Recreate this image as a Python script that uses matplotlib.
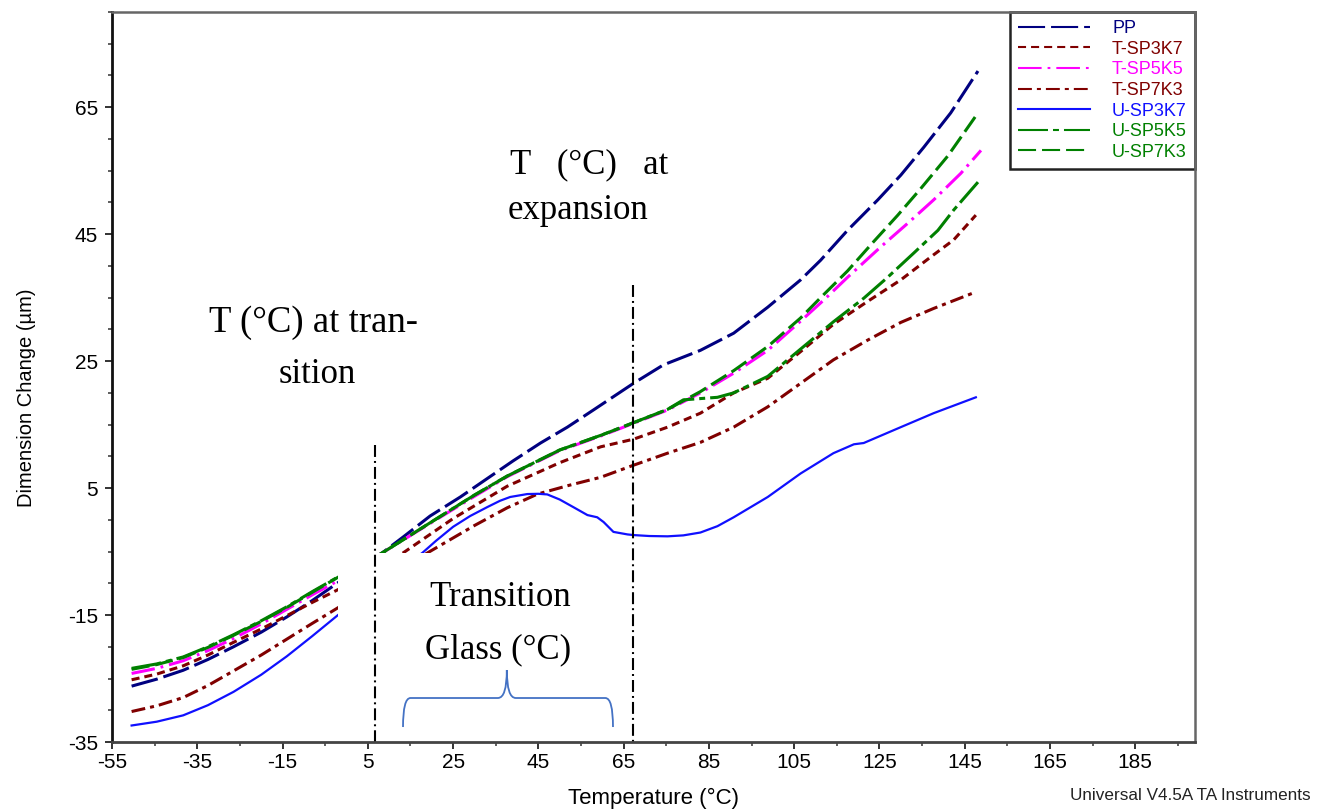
import matplotlib
matplotlib.use("Agg")
import matplotlib.pyplot as plt
from matplotlib.ticker import MultipleLocator
from matplotlib.patches import Rectangle, PathPatch
from matplotlib.path import Path

plt.rcParams['font.family'] = ['Liberation Sans', 'DejaVu Sans']
plt.rcParams['lines.scale_dashes'] = False
plt.rcParams['axes.unicode_minus'] = False

# ---- data (temperature in C, dimension change in um) ----
t_pp = [-50.4, -44.5, -38.3, -32.5, -26.5, -20.0, -14.0, -8.0, -2.0, 8.4, 13.3, 19.6,
        26.7, 33.0, 39.1, 45.5, 51.8, 57.9, 67.3, 74.3, 83.0, 90.8, 98.8, 106.5, 111.2,
        117.5, 124.6, 130.0, 135.4, 141.7, 148.1]
d_pp = [-26.2, -25.1, -23.7, -22.0, -20.0, -17.7, -15.3, -12.7, -9.9, -5.2, -2.7, 0.6,
        3.6, 6.5, 9.3, 12.1, 14.6, 17.3, 21.5, 24.4, 26.7, 29.4, 33.5, 37.8, 40.9,
        45.6, 50.4, 54.3, 58.7, 64.1, 70.7]

t_tsp3k7 = [-50.4, -44.5, -38.3, -32.5, -26.5, -20.0, -14.0, -8.0, -2.0, 13.3, 25.0,
            37.7, 50.0, 59.6, 67.3, 75.3, 83.0, 90.8, 98.8, 106.5, 114.2, 122.2, 130.0,
            137.0, 142.4, 147.6]
d_tsp3k7 = [-25.2, -24.3, -23.0, -21.3, -19.3, -17.2, -15.1, -13.0, -11.0, -5.2, 0.2,
            5.3, 9.0, 11.5, 12.7, 14.6, 16.8, 20.0, 22.3, 26.5, 30.8, 34.4, 37.8,
            41.4, 44.1, 48.0]

t_tsp5k5 = [-50.4, -44.5, -38.3, -32.5, -26.5, -20.0, -14.0, -8.0, -2.0, 8.4, 20.0,
            30.0, 37.7, 50.0, 60.0, 67.3, 75.3, 83.0, 90.8, 98.8, 106.5, 111.9, 117.5,
            125.3, 131.6, 137.7, 144.1, 148.8]
d_tsp5k5 = [-24.2, -23.4, -22.2, -20.6, -18.7, -16.4, -14.1, -11.8, -9.6, -5.2, -0.4,
            3.7, 6.8, 10.9, 13.3, 15.2, 17.3, 20.0, 23.1, 26.7, 31.3, 34.6, 38.2,
            43.0, 46.7, 50.4, 54.6, 58.2]

t_tsp7k3 = [-50.4, -44.5, -38.3, -32.5, -26.5, -20.0, -14.0, -8.0, -2.0, 19.0, 30.0,
            37.7, 44.8, 52.0, 59.6, 67.3, 75.3, 83.0, 90.8, 98.8, 106.5, 114.2, 122.2,
            130.0, 137.7, 147.6]
d_tsp7k3 = [-30.2, -29.3, -28.0, -26.1, -23.8, -21.3, -18.8, -16.3, -13.85, -5.2, -0.9,
            1.9, 4.06, 5.4, 6.7, 8.6, 10.5, 12.2, 14.6, 17.8, 21.5, 25.2, 28.3,
            31.1, 33.3, 35.9]

t_usp3k7 = [-50.4, -44.5, -38.3, -32.5, -26.5, -20.0, -14.0, -8.0, -2.0, 17.8, 21.0,
            25.0, 29.0, 33.0, 36.0, 38.4, 42.4, 45.0, 47.1, 50.0, 53.2, 56.5, 58.8,
            60.3, 62.6, 65.9, 67.3, 71.0, 75.3, 79.0, 83.0, 87.0, 90.8, 98.8, 106.5,
            114.2, 119.0, 121.3, 130.0, 137.7, 147.6]
d_usp3k7 = [-32.4, -31.8, -30.8, -29.2, -27.1, -24.4, -21.5, -18.3, -15.0, -5.2, -3.3,
            -1.1, 0.6, 2.0, 3.0, 3.6, 4.06, 4.1, 4.0, 3.2, 2.0, 0.75, 0.4,
            -0.35, -1.9, -2.3, -2.4, -2.55, -2.6, -2.45, -2.0, -1.0, 0.4, 3.6, 7.3,
            10.5, 11.9, 12.1, 14.6, 16.8, 19.3]

t_usp5k5 = [-50.4, -44.5, -38.3, -32.5, -26.5, -20.0, -14.0, -8.0, -2.0, 8.4, 20.0,
            30.0, 37.7, 50.0, 60.0, 67.3, 75.3, 79.0, 83.0, 87.0, 90.8, 98.8, 106.5,
            114.2, 121.3, 126.9, 133.0, 138.7, 142.4, 148.1]
d_usp5k5 = [-23.4, -22.7, -21.6, -20.0, -18.1, -15.9, -13.7, -11.3, -9.0, -5.2, -0.3,
            3.9, 6.9, 11.0, 13.4, 15.3, 17.4, 18.9, 19.1, 19.3, 20.0, 22.6, 26.9,
            31.2, 34.9, 38.2, 42.0, 45.6, 48.8, 53.2]

t_usp7k3 = [-50.4, -44.5, -38.3, -32.5, -26.5, -20.0, -14.0, -8.0, -2.0, 8.4, 20.0,
            30.0, 37.7, 50.0, 60.0, 67.3, 75.3, 83.0, 90.8, 98.8, 106.5, 111.2, 117.5,
            123.6, 129.3, 134.7, 141.0, 148.1]
d_usp7k3 = [-23.55, -22.8, -21.7, -20.1, -18.2, -16.0, -13.8, -11.4, -9.05, -5.2, -0.3,
            3.9, 6.9, 11.0, 13.4, 15.3, 17.4, 20.2, 23.5, 27.3, 31.8, 35.0, 39.2,
            43.8, 48.0, 52.2, 57.3, 64.1]

names = ["PP", "T-SP3K7", "T-SP5K5", "T-SP7K3", "U-SP3K7", "U-SP5K5", "U-SP7K3"]
temps = [t_pp, t_tsp3k7, t_tsp5k5, t_tsp7k3, t_usp3k7, t_usp5k5, t_usp7k3]
dims = [d_pp, d_tsp3k7, d_tsp5k5, d_tsp7k3, d_usp3k7, d_usp5k5, d_usp7k3]

colors = ["#000080", "#800000", "#ff00ff", "#800000", "#1010ff", "#008000", "#008000"]
widths = [2.2, 2.2, 2.2, 2.2, 1.6, 2.2, 2.2]
dash_styles = [(19.5, 4.3), (5.8, 3.6), (17, 4.3, 2, 4.3), (10, 3.6, 2.9, 3.6), None,
               (21.6, 3.6, 4.3, 3.6), (13, 4.3)]

fig = plt.figure(figsize=(13.19, 8.11), dpi=100)
ax = fig.add_axes([112 / 1319, 69 / 811, 1083 / 1319, 730 / 811])

for name, t, d, c, lw, ds in zip(names, temps, dims, colors, widths, dash_styles):
    if ds is None:
        ax.plot(t, d, color=c, lw=lw, label=name, zorder=2)
    else:
        ax.plot(t, d, color=c, lw=lw, dashes=ds, label=name, zorder=2)

ax.set_xlim(-55, 199)
ax.set_ylim(-35, 80)
ax.xaxis.set_major_locator(MultipleLocator(20, offset=5))
ax.xaxis.set_minor_locator(MultipleLocator(10, offset=5))
ax.yaxis.set_major_locator(MultipleLocator(20, offset=5))
ax.yaxis.set_minor_locator(MultipleLocator(5))

ax.tick_params(which='major', direction='out', length=5, width=1.4, labelsize=15,
               color='#333333')
ax.tick_params(axis='y', which='major', pad=5)
ax.tick_params(axis='x', which='major', pad=3)
ax.tick_params(which='minor', direction='out', length=3, width=1.1, color='#333333')

ax.spines['left'].set_linewidth(2)
ax.spines['left'].set_color('#111111')
ax.spines['bottom'].set_linewidth(2)
ax.spines['bottom'].set_color('#444444')
for s in ['top', 'right']:
    ax.spines[s].set_linewidth(1.8)
    ax.spines[s].set_color('#666666')
for sp in ax.spines.values():
    sp.set_zorder(10)

ax.set_xlabel('Temperature (°C)', fontsize=16)
ax.xaxis.set_label_coords(0.5, -0.063)
ax.set_ylabel('Dimension Change (µm)', fontsize=14.5)
ax.yaxis.set_label_coords(-0.070, 0.472)

# white box over the transition zone (as in the source figure)
ax.add_patch(Rectangle((-2.0, -35), 66, 29.8, facecolor='white', edgecolor='none', zorder=3))

# dash-dot markers for the temperature ranges
ax.plot([6.7, 6.7], [11.8, -35], color='black', lw=1.5, dashes=(8.6, 2.9, 1.4, 2.9), zorder=4)
ax.plot([67.1, 67.1], [37.0, -35], color='black', lw=1.5, dashes=(8.6, 2.9, 1.4, 2.9), zorder=4)

# curly brace
verts = [(13.25, -32.64), (13.25, -28.07), (15.0, -28.07),
         (35.5, -28.07), (35.5, -28.07), (37.6, -28.07), (37.6, -23.66),
         (37.6, -28.07), (39.7, -28.07), (60.7, -28.07), (60.7, -28.07),
         (62.5, -28.07), (62.5, -32.64)]
codes = [Path.MOVETO, Path.CURVE3, Path.CURVE3, Path.LINETO, Path.LINETO,
         Path.CURVE3, Path.CURVE3, Path.CURVE3, Path.CURVE3, Path.LINETO, Path.LINETO,
         Path.CURVE3, Path.CURVE3]
ax.add_patch(PathPatch(Path(verts, codes), facecolor='none', edgecolor='#4472c4', lw=1.3,
                       zorder=5))

serif = dict(family=['Liberation Serif', 'DejaVu Serif'], fontsize=25, color='black', zorder=6)
ax.text(-7.8, 29.6, 'T (°C) at tran-', ha='center', va='baseline', fontsize=26.5,
        family=['Liberation Serif', 'DejaVu Serif'], zorder=6)
ax.text(-6.9, 21.55, 'sition', ha='center', va='baseline', **serif)
ax.text(38.3, 54.6, 'T   (°C)   at', ha='left', va='baseline', **serif)
ax.text(37.9, 47.4, 'expansion', ha='left', va='baseline', **serif)
ax.text(36.0, -13.6, 'Transition', ha='center', va='baseline', **serif)
ax.text(35.5, -21.8, 'Glass (°C)', ha='center', va='baseline', **serif)

leg = ax.legend(loc='upper right', bbox_to_anchor=(1, 1), borderaxespad=0, fontsize=13,
                fancybox=False, framealpha=1, edgecolor='#222222', handlelength=4.0,
                handletextpad=1.2, labelspacing=0.2, borderpad=0.45)
leg.get_frame().set_linewidth(1.8)
for txt, ln in zip(leg.get_texts(), leg.get_lines()):
    txt.set_color(ln.get_color())
    ln.set_linewidth(1.5)

fig.text(1070 / 1319, 1 - 795 / 811, 'Universal V4.5A TA Instruments', fontsize=12.3,
         color='#222222', ha='left', va='center')

fig.savefig('out.png', dpi=100)
